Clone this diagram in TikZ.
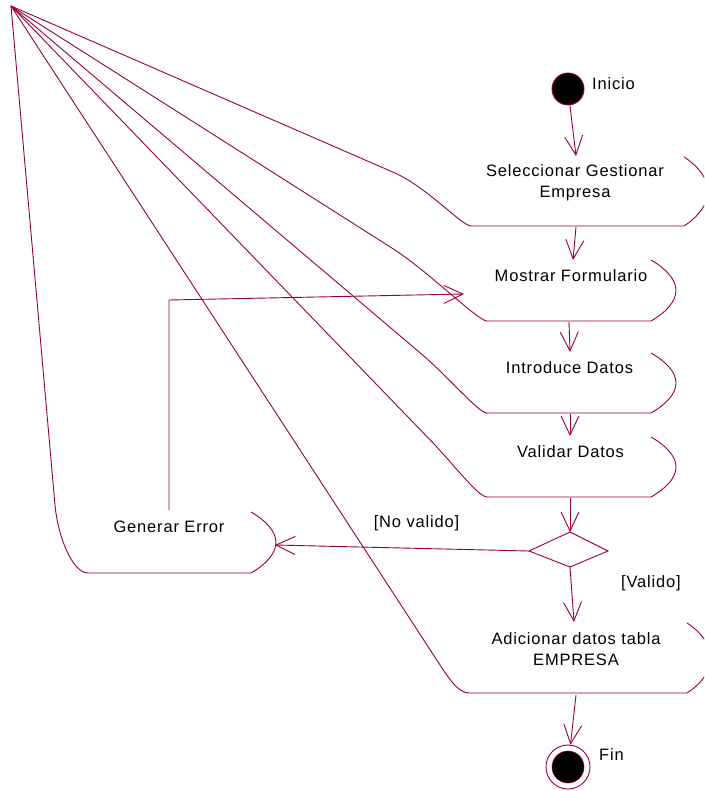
\documentclass[tikz,border=0pt]{standalone}
\usepackage{fontspec}
\setmainfont[LetterSpace=5]{Liberation Sans}
\usetikzlibrary{arrows.meta}
\definecolor{rl}{RGB}{153,0,51}
\begin{document}
\begin{tikzpicture}[x=1pt,y=-1pt,
  shp/.style={draw=rl, line width=0.9pt},
  arr/.style={draw=rl, line width=0.9pt, -{Straight Barb[length=19pt,width=18pt]}},
  lbl/.style={font=\fontsize{16.5}{21}\selectfont, text=black, inner sep=0pt, align=center}]
\useasboundingbox (0,0) rectangle (704,791);
\clip (0,0) rectangle (704,791);

\coordinate (O) at (11,6);

% activity outlines
\draw[shp] (O) -- (395,173) .. controls (428,188) and (462,226) .. (471,226) -- (684,226)
  .. controls (698,217) and (708,204.5) .. (708,191.5) .. controls (708,178.5) and (698,166) .. (684,157);
\draw[shp] (O) -- (395,250) .. controls (430,273) and (478,321) .. (487,321) -- (651,321)
  .. controls (665,313) and (676,302) .. (676,290.5) .. controls (676,279) and (665,268) .. (651,260);
\draw[shp] (O) -- (425,357) .. controls (452,381) and (479,413) .. (487,413) -- (651,413)
  .. controls (665,405) and (676,394.5) .. (676,383) .. controls (676,371.5) and (665,361) .. (651,353);
\draw[shp] (O) -- (435,445) .. controls (458,470) and (479,497) .. (487,497) -- (651,497)
  .. controls (665,489) and (676,478.5) .. (676,467) .. controls (676,455.5) and (665,445) .. (651,437);
\draw[shp] (O) -- (55,505) .. controls (57.6,535) and (72,573) .. (88,573) -- (251,573)
  .. controls (265,565) and (276,554) .. (276,542.5) .. controls (276,531) and (265,520) .. (251,512);
\draw[shp] (O) -- (440,665) .. controls (448,677) and (458,693) .. (469,693) -- (687,693)
  .. controls (701,684) and (711,671) .. (711,658) .. controls (711,645) and (701,632) .. (687,623);

% decision
\coordinate (decT) at (570,532);
\coordinate (decL) at (529,551);
\coordinate (decR) at (608,551);
\coordinate (decB) at (570,567);
\draw[shp] (decT) -- (decR) -- (decB) -- (decL) -- cycle;

% start / end
\node[circle, fill=black, draw=rl, line width=0.9pt, minimum size=32pt, inner sep=0pt] (ini) at (568,89) {};
\node[circle, draw=rl, line width=0.9pt, minimum size=44pt, inner sep=0pt] (fin) at (568,767) {};
\node[circle, fill=black, draw=rl, line width=0.6pt, minimum size=32pt, inner sep=0pt] (finin) at (568,767) {};

% texts
\node[lbl, anchor=west] (tini) at (592,84) {Inicio};
\node[lbl, anchor=west] (tfin) at (599,755) {Fin};
\node[lbl] (tsel) at (575,183) {Seleccionar Gestionar\\Empresa};
\node[lbl] (tmos) at (571,275.5) {Mostrar Formulario};
\node[lbl] (tint) at (569.5,368) {Introduce Datos};
\node[lbl] (tval) at (570.5,452) {Validar Datos};
\node[lbl] (tgen) at (169,527) {Generar Error};
\node[lbl] (tadd) at (576,649.5) {Adicionar datos tabla\\EMPRESA};
\node[lbl] (tno) at (416.5,523) {[No valido]};
\node[lbl] (tsi) at (651,583) {[Valido]};

% connector end points
\coordinate (selT) at (576,156);
\coordinate (selB) at (576,227);
\coordinate (mosT) at (573,260);
\coordinate (mosB) at (569,322);
\coordinate (mosL) at (464,294);
\coordinate (intT) at (570,352);
\coordinate (intB) at (570,414);
\coordinate (valT) at (570,436);
\coordinate (valB) at (570,498);
\coordinate (genR) at (275,545);
\coordinate (genT) at (169,510);
\coordinate (genK) at (169,300);
\coordinate (addT) at (574,622);
\coordinate (addB) at (576,695);

% connectors
\draw[arr] (ini) -- (selT);
\draw[arr] (selB) -- (mosT);
\draw[arr] (mosB) -- (intT);
\draw[arr] (intB) -- (valT);
\draw[arr] (valB) -- (decT);
\draw[arr] (decL) -- (genR);
\draw[arr] (decB) -- (addT);
\draw[arr] (genT) -- (genK) -- (mosL);
\draw[arr] (addB) -- (fin);
\end{tikzpicture}
\end{document}
